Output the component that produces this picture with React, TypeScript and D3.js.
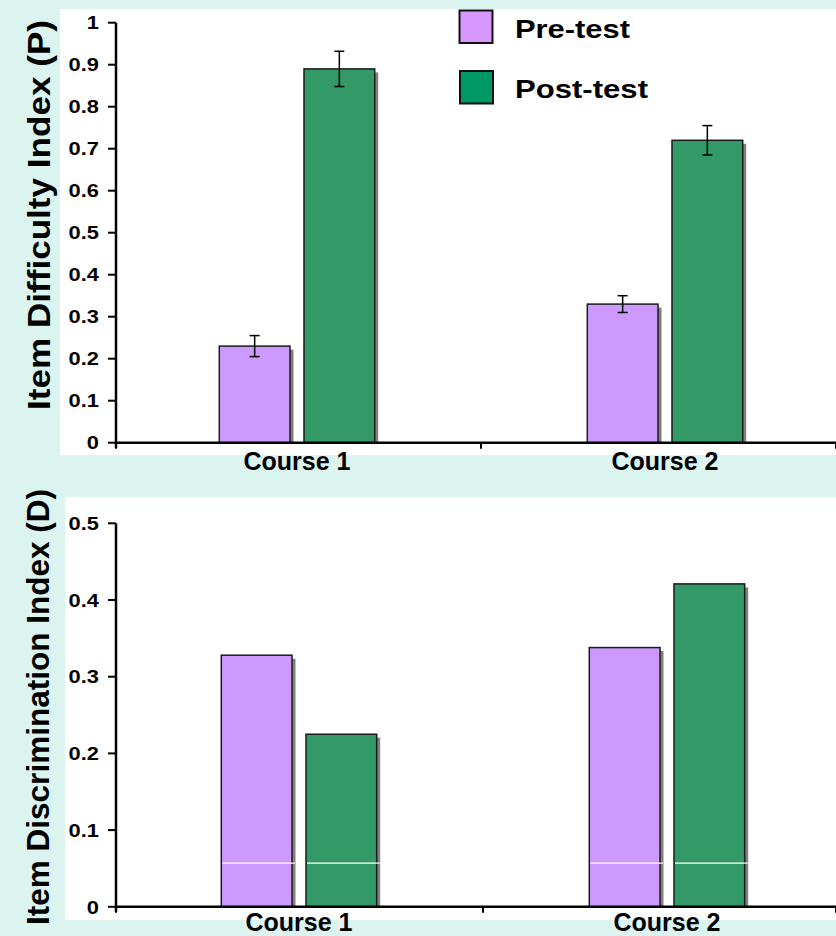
import React from 'react';
import * as d3 from 'd3';

const courses = ['Course 1', 'Course 2'];
const seriesNames = ['Pre-test', 'Post-test'];
const difficultyPre = [0.23, 0.33];
const difficultyPost = [0.89, 0.72];
const difficultyPreErr = [0.025, 0.02];
const difficultyPostErr = [0.042, 0.035];
const discriminationPre = [0.328, 0.338];
const discriminationPost = [0.225, 0.421];
const difficultyTicks = [0, 0.1, 0.2, 0.3, 0.4, 0.5, 0.6, 0.7, 0.8, 0.9, 1];
const discriminationTicks = [0, 0.1, 0.2, 0.3, 0.4, 0.5];
const whiteStreakValue = 0.057;

const W = 836;
const H = 936;
const BG = '#dbf4ef';
const barFill = ['#cc99ff', '#339966'];
const legendFill = ['#d896ff', '#009966'];
const FONT = 'Arial, "Liberation Sans", Helvetica, sans-serif';

type PanelProps = {
  top: number;
  bottom: number;
  left: number;
  right: number;
  domainMax: number;
  ticks: number[];
  pre: number[];
  post: number[];
  preErr?: number[];
  postErr?: number[];
  bandRange: [number, number];
  labelBaseline: number;
  streak?: number;
};

function Panel(p: PanelProps) {
  const y = d3.scaleLinear().domain([0, p.domainMax]).range([p.bottom, p.top]);
  const x = d3.scaleBand<string>().domain(courses).range(p.bandRange).paddingInner(0).paddingOuter(0);
  const groupW = 155.4;
  const inner = d3.scaleBand<string>().domain(seriesNames).range([0, groupW]).paddingInner(0.165).paddingOuter(0);
  const bw = inner.bandwidth();
  const vals = [p.pre, p.post];
  const errs = [p.preErr, p.postErr];
  const boundaryTicks = [p.left, x(courses[1]) as number, p.right];
  const lx = p.left - 17;
  return (
    <g>
      {courses.map((c, ci) => {
        const cx = (x(c) as number) + x.bandwidth() / 2;
        const gx = cx - groupW / 2;
        return (
          <g key={c}>
            {seriesNames.map((s, si) => {
              const v = vals[si][ci];
              const bx = gx + (inner(s) as number);
              const by = y(v);
              const bh = p.bottom - by;
              const e = errs[si] ? (errs[si] as number[])[ci] : 0;
              const ex = bx + bw / 2;
              return (
                <g key={s}>
                  <rect x={bx + 3.5} y={by + 3.5} width={bw} height={Math.max(0, bh - 3.5)} fill="#808080" />
                  <rect x={bx} y={by} width={bw} height={bh} fill={barFill[si]} stroke="#1a1a1a" strokeWidth={1.5} />
                  {p.streak !== undefined && (
                    <line x1={bx + 1} x2={bx + bw + 3} y1={y(p.streak)} y2={y(p.streak)} stroke="#ffffff" strokeWidth={1.2} />
                  )}
                  {e > 0 && (
                    <g stroke="#000" strokeWidth={1.5}>
                      <line x1={ex} x2={ex} y1={y(v + e)} y2={y(v - e)} />
                      <line x1={ex - 5} x2={ex + 5} y1={y(v + e)} y2={y(v + e)} />
                      <line x1={ex - 5} x2={ex + 5} y1={y(v - e)} y2={y(v - e)} />
                    </g>
                  )}
                </g>
              );
            })}
            <text
              x={cx}
              y={p.labelBaseline}
              textAnchor="middle"
              fontFamily={FONT}
              fontWeight="bold"
              fontSize={25}
              fill="#000"
            >
              {c}
            </text>
          </g>
        );
      })}
      {/* y axis */}
      <line x1={p.left} x2={p.left} y1={p.top} y2={p.bottom + 5} stroke="#000" strokeWidth={2.5} />
      {p.ticks.map((t) => (
        <g key={t}>
          <line x1={p.left - 8} x2={p.left} y1={y(t)} y2={y(t)} stroke="#000" strokeWidth={2} />
          <text
            x={lx}
            y={y(t) + 6.8}
            textAnchor="end"
            fontFamily={FONT}
            fontWeight="bold"
            fontSize={19}
            fill="#000"
            transform={`translate(${lx},0) scale(1.15,1) translate(${-lx},0)`}
          >
            {String(+t.toFixed(1))}
          </text>
        </g>
      ))}
      {/* x axis */}
      <line x1={p.left} x2={p.right} y1={p.bottom} y2={p.bottom} stroke="#000" strokeWidth={2.5} />
      {boundaryTicks.map((bx, i) => (
        <line key={i} x1={bx} x2={bx} y1={p.bottom} y2={p.bottom + 6} stroke="#000" strokeWidth={2} />
      ))}
    </g>
  );
}

export default function App() {
  return (
    <svg
      width={W}
      height={H}
      viewBox={`0 0 ${W} ${H}`}
      style={{ position: 'absolute', left: 0, top: 0, display: 'block' }}
    >
      <rect x={0} y={0} width={W} height={H} fill={BG} />
      <rect x={60} y={9} width={W - 60} height={446} fill="#ffffff" />
      <rect x={65} y={497} width={W - 65} height={423} fill="#ffffff" />

      <Panel
        top={22.7}
        bottom={442.7}
        left={116}
        right={836}
        domainMax={1}
        ticks={difficultyTicks}
        pre={difficultyPre}
        post={difficultyPost}
        preErr={difficultyPreErr}
        postErr={difficultyPostErr}
        bandRange={[113, 849]}
        labelBaseline={470}
      />
      <Panel
        top={523.3}
        bottom={906.8}
        left={116}
        right={836}
        domainMax={0.5}
        ticks={discriminationTicks}
        pre={discriminationPre}
        post={discriminationPost}
        bandRange={[115, 851]}
        labelBaseline={931}
        streak={whiteStreakValue}
      />

      {/* legend */}
      {seriesNames.map((s, i) => (
        <g key={s}>
          <rect x={459.5 + i * 0.5} y={10.5 + i * 60.5} width={33} height={32.5} fill={legendFill[i]} stroke="#111" strokeWidth={2} />
          <text
            x={515}
            y={37.5 + i * 60.5}
            fontFamily={FONT}
            fontWeight="bold"
            fontSize={26}
            fill="#000"
            textLength={i === 0 ? 115 : 133}
            lengthAdjust="spacingAndGlyphs"
          >
            {s}
          </text>
        </g>
      ))}

      {/* y titles */}
      <text
        transform="translate(50,215) rotate(-90)"
        textAnchor="middle"
        fontFamily={FONT}
        fontWeight="bold"
        fontSize={31}
        fill="#000"
        textLength={390}
        lengthAdjust="spacingAndGlyphs"
      >
        Item Difficulty Index (P)
      </text>
      <text
        transform="translate(49,707) rotate(-90)"
        textAnchor="middle"
        fontFamily={FONT}
        fontWeight="bold"
        fontSize={31}
        fill="#000"
        textLength={436}
        lengthAdjust="spacingAndGlyphs"
      >
        Item Discrimination Index (D)
      </text>
    </svg>
  );
}
